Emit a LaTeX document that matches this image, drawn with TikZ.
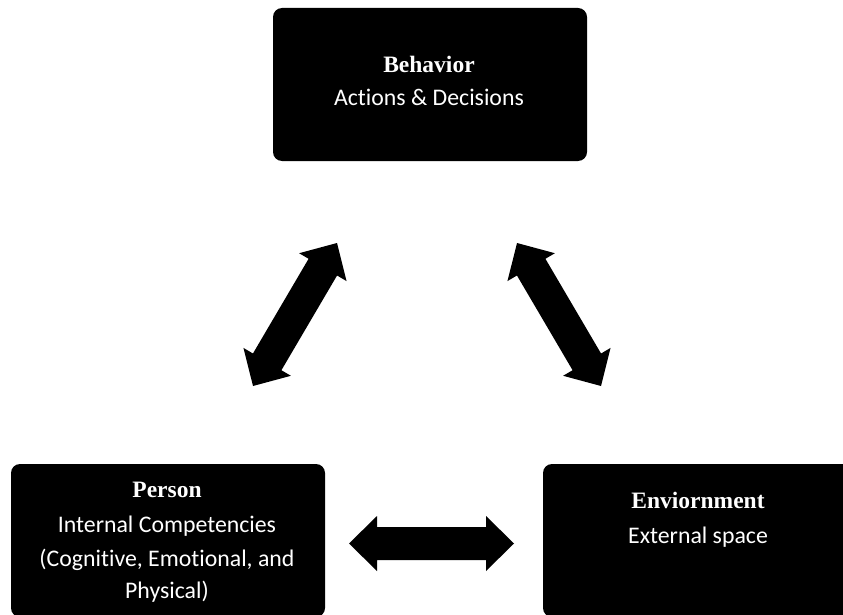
\documentclass[tikz,border=0pt]{standalone}
\usepackage{fontspec}
\setmainfont{Carlito}[RawFeature={-liga;-calt}]
\newfontfamily\titlefont{Liberation Serif}
\usetikzlibrary{calc}
\tikzset{
  box/.style={fill=black, draw=none, rounded corners=9pt, inner sep=0pt},
  boxtext/.style={text=white, inner sep=0pt, font=\fontsize{23.8}{28}\selectfont, text height=16pt, text depth=5pt, anchor=center},
  boxtitle/.style={boxtext, font=\titlefont\bfseries\fontsize{23.5}{28}\selectfont},
}
\newcommand{\blockarrow}[2]{%
  \coordinate (hA) at ($(#1)!28pt!(#2)$);
  \coordinate (hB) at ($(#2)!28pt!(#1)$);
  \fill[black] (#1) -- ($(hA)!27.5pt!90:(#2)$) -- ($(hA)!16.5pt!90:(#2)$)
    -- ($(hB)!16.5pt!-90:(#1)$) -- ($(hB)!27.5pt!-90:(#1)$) -- (#2)
    -- ($(hB)!27.5pt!90:(#1)$) -- ($(hB)!16.5pt!90:(#1)$)
    -- ($(hA)!16.5pt!-90:(#2)$) -- ($(hA)!27.5pt!-90:(#2)$) -- cycle;}
\begin{document}
\begin{tikzpicture}[x=1pt, y=-1pt]
\useasboundingbox (0,0) rectangle (843,615);
% boxes
\node[box, minimum width=314pt, minimum height=153pt] (behavior) at (430,84.5) {};
\node[box, minimum width=314pt, minimum height=153pt] (person) at (168,540.5) {};
\node[box, minimum width=310pt, minimum height=153pt] (env) at (698,540.5) {};
% texts
\node[boxtitle] (btitle) at (429,67) {Behavior};
\node[boxtext] (bsub) at (429,100) {Actions \& Decisions};
\node[boxtitle] (ptitle) at (167,492) {Person};
\node[boxtext] (psub1) at (167,527) {Internal Competencies};
\node[boxtext] (psub2) at (167,561) {(Cognitive, Emotional, and};
\node[boxtext] (psub3) at (167,593) {Physical)};
\node[boxtitle] (etitle) at (698,503) {Enviornment};
\node[boxtext] (esub) at (698,538) {External space};
% arrow tips
\coordinate (l1) at (337,243);
\coordinate (l2) at (253,386);
\coordinate (r1) at (517,243);
\coordinate (r2) at (601,386);
\coordinate (h1) at (349,543.5);
\coordinate (h2) at (514,543.5);
\blockarrow{l1}{l2}
\blockarrow{r1}{r2}
\blockarrow{h1}{h2}
\end{tikzpicture}
\end{document}
